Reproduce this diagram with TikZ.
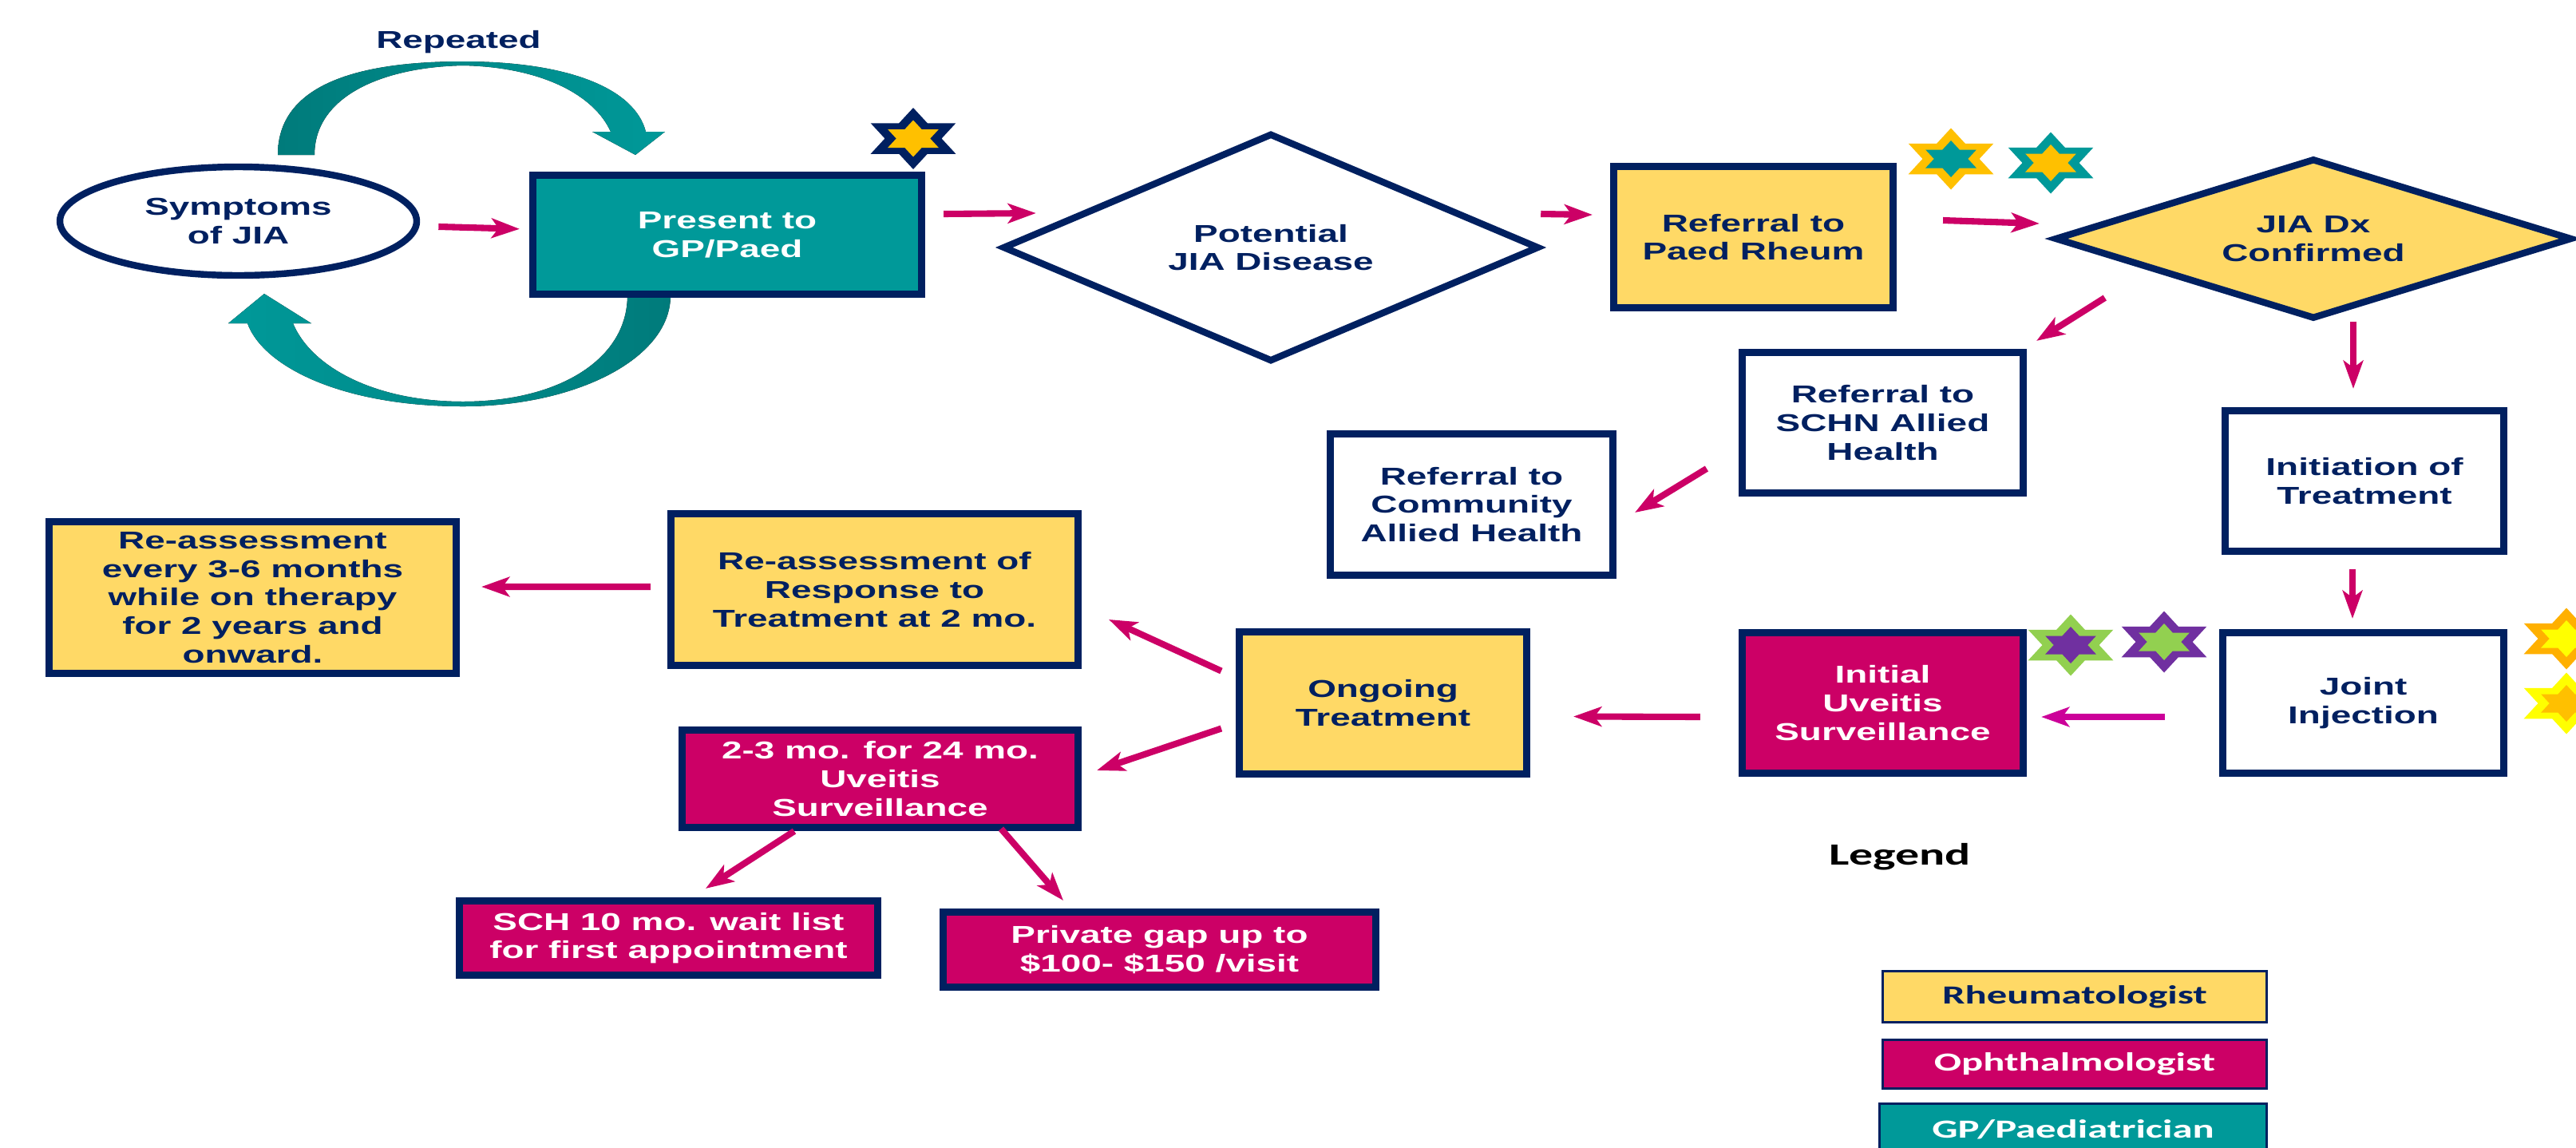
\documentclass[tikz,border=0pt]{standalone}
\usepackage{fontspec}
\usepackage{tikz}
\usetikzlibrary{shapes.geometric, arrows.meta}
\usepackage{xcolor}

\newfontfamily\boxfont[FakeStretch=1.5]{Liberation Sans}
\newfontfamily\legfont[FakeStretch=1.55]{Carlito}

\definecolor{navy}{HTML}{002060}
\definecolor{gp}{HTML}{009999}
\definecolor{gpdark}{HTML}{007B7B}
\definecolor{rheum}{HTML}{FFD966}
\definecolor{ophth}{HTML}{CC0066}
\definecolor{mag}{HTML}{CC0066}
\definecolor{magb}{HTML}{CC0099}
\definecolor{gold}{HTML}{FFC000}
\definecolor{amber}{HTML}{FFB000}
\definecolor{lemon}{HTML}{FFFF00}
\definecolor{leaf}{HTML}{92D050}
\definecolor{plum}{HTML}{7030A0}

\newcommand{\hexstar}[4]{%
	\begin{scope}[shift={(#1,#2)}, xscale=1.6]
		\fill[#3] plot[samples at={0,...,11}] ({90+30*\x}:{0.385*(0.7887+0.2113*cos(180*\x))}) -- cycle;
		\fill[#4] plot[samples at={0,...,11}] ({90+30*\x}:{0.23*(0.7887+0.2113*cos(180*\x))}) -- cycle;
	\end{scope}}

\begin{document}
\begin{tikzpicture}[
		box/.style={rectangle, draw=navy, line width=2.6pt, align=center, inner sep=0pt, text=navy,
			font=\boxfont\bfseries\fontsize{8.7}{10.2}\selectfont},
		wbox/.style={box, fill=white},
		ybox/.style={box, fill=rheum},
		mbox/.style={box, fill=ophth, text=white},
		tbox/.style={box, fill=gp, text=white},
		arr/.style={draw=mag, line width=2.3pt, -{Stealth[length=10pt, width=7pt, inset=2.5pt]}},
		legbox/.style={rectangle, draw=navy, line width=1.1pt, inner sep=0pt, minimum width=4.81cm,
			font=\legfont\bfseries\fontsize{9.3}{11}\selectfont}]
			\useasboundingbox[fill=white] (0,0) rectangle (32.27,-14.37);
			
			\fill[left color=gpdark, right color=gp] (3.48,-1.94) .. controls (3.48,-1.05) and (4.50,-0.77) .. (5.80,-0.77)
				.. controls (7.10,-0.77) and (7.95,-1.10) .. (8.09,-1.65) -- (8.33,-1.65) -- (7.96,-1.94) -- (7.42,-1.65) -- (7.65,-1.65)
				.. controls (7.45,-1.20) and (6.80,-0.84) .. (5.80,-0.82) .. controls (4.80,-0.84) and (3.94,-1.20) .. (3.94,-1.94) -- cycle;
			\fill[left color=gp, right color=gpdark] (8.40,-3.70) .. controls (8.40,-4.50) and (7.20,-5.09) .. (5.80,-5.09)
				.. controls (4.30,-5.09) and (3.30,-4.60) .. (3.10,-4.05) -- (2.86,-4.05) -- (3.31,-3.68) -- (3.90,-4.05) -- (3.67,-4.05)
				.. controls (3.90,-4.60) and (4.70,-5.03) .. (5.80,-5.03) .. controls (7.00,-5.03) and (7.86,-4.50) .. (7.86,-3.70) -- cycle;
			\node[text=navy, anchor=base, font=\boxfont\bfseries\fontsize{8.7}{10.2}\selectfont] (rep) at (5.745,-0.60) {Repeated};
			
			\node[box, ellipse, fill=white, line width=2.4pt, minimum width=4.47cm, minimum height=1.36cm] (sym) at (2.985,-2.77) {Symptoms\\of JIA};
			\node[tbox, minimum width=4.87cm, minimum height=1.49cm] (present) at (9.11,-2.94) {Present to\\GP/Paed};
			\node[wbox, diamond, aspect=2.3, line width=2.4pt, minimum width=6.72cm, minimum height=2.86cm] (potential) at (15.92,-3.10) {Potential\\JIA Disease};
			\node[ybox, minimum width=3.50cm, minimum height=1.77cm] (paedrheum) at (21.965,-2.97) {Referral to\\Paed Rheum};
			\node[ybox, diamond, aspect=3.2, line width=2.4pt, minimum width=6.48cm, minimum height=2.01cm] (jiadx) at (28.98,-2.99) {JIA Dx\\Confirmed};
			\node[wbox, minimum width=3.52cm, minimum height=1.76cm] (schn) at (23.585,-5.295) {Referral to\\SCHN Allied\\Health};
			\node[wbox, minimum width=3.54cm, minimum height=1.77cm] (community) at (18.435,-6.32) {Referral to\\Community\\Allied Health};
			\node[wbox, minimum width=3.49cm, minimum height=1.76cm] (initiation) at (29.62,-6.025) {Initiation of\\Treatment};
			\node[wbox, minimum width=3.52cm, minimum height=1.76cm] (joint) at (29.605,-8.805) {Joint\\Injection};
			\node[mbox, minimum width=3.52cm, minimum height=1.76cm] (uveitis) at (23.585,-8.805) {Initial\\Uveitis\\Surveillance};
			\node[ybox, minimum width=3.60cm, minimum height=1.78cm] (ongoing) at (17.325,-8.805) {Ongoing\\Treatment};
			\node[ybox, minimum width=5.10cm, minimum height=1.90cm] (response) at (10.955,-7.385) {Re-assessment of\\Response to\\Treatment at 2 mo.};
			\node[ybox, minimum width=5.10cm, minimum height=1.90cm] (every) at (3.165,-7.485) {Re-assessment\\every 3-6 months\\while on therapy\\for 2 years and\\onward.};
			\node[mbox, minimum width=4.96cm, minimum height=1.22cm] (surv) at (11.025,-9.755) {2-3 mo. for 24 mo.\\Uveitis\\Surveillance};
			\node[mbox, minimum width=5.24cm, minimum height=0.93cm] (sch) at (8.375,-11.75) {SCH 10 mo. wait list\\for first appointment};
			\node[mbox, minimum width=5.42cm, minimum height=0.94cm] (private) at (14.525,-11.895) {Private gap up to\\\$100- \$150 /visit};
			
			\hexstar{11.44}{-1.735}{navy}{gold}
			\hexstar{24.44}{-1.99}{gold}{gp}
			\hexstar{25.69}{-2.04}{gp}{gold}
			\hexstar{25.94}{-8.08}{leaf}{plum}
			\hexstar{27.11}{-8.04}{plum}{leaf}
			\hexstar{32.15}{-8.00}{amber}{lemon}
			\hexstar{32.15}{-8.81}{lemon}{gold}
			
			\draw[arr, shorten <=2.4mm, shorten >=1.2mm] (sym) -- (present);
			\draw[arr] ([xshift=0.23cm, yshift=0.26cm]present.east) -- ([xshift=0.46cm, yshift=0.43cm]potential.west);
			\draw[arr] ([xshift=-0.02cm, yshift=0.42cm]potential.east) -- ([xshift=-0.22cm, yshift=0.28cm]paedrheum.west);
			\draw[arr] ([xshift=0.58cm, yshift=0.21cm]paedrheum.east) -- ([xshift=-0.15cm, yshift=0.19cm]jiadx.west);
			\draw[arr] ([xshift=0.67cm, yshift=-0.74cm]jiadx.west) -- ([xshift=0.12cm, yshift=0.10cm]schn.north east);
			\draw[arr] ([xshift=0.50cm, yshift=0.01cm]jiadx.south) -- ([xshift=-0.14cm, yshift=0.23cm]initiation.north);
			\draw[arr] ([xshift=-0.40cm, yshift=-0.575cm]schn.west) -- ([xshift=0.23cm, yshift=-0.10cm]community.east);
			\draw[arr] ([xshift=-0.15cm, yshift=-0.18cm]initiation.south) -- ([xshift=-0.135cm, yshift=0.13cm]joint.north);
			\draw[arr, draw=magb] ([xshift=-0.68cm, yshift=-0.175cm]joint.west) -- ([xshift=0.18cm, yshift=-0.175cm]uveitis.east);
			\draw[arr] ([xshift=-0.48cm, yshift=-0.175cm]uveitis.west) -- ([xshift=0.54cm, yshift=-0.17cm]ongoing.east);
			\draw[arr] ([xshift=-0.18cm, yshift=0.40cm]ongoing.west) -- ([xshift=0.34cm, yshift=-0.375cm]response.east);
			\draw[arr] ([xshift=-0.18cm, yshift=-0.32cm]ongoing.west) -- ([xshift=0.19cm, yshift=0.105cm]surv.east);
			\draw[arr] ([xshift=-0.21cm, yshift=0.035cm]response.west) -- ([xshift=0.27cm, yshift=0.135cm]every.east);
			\draw[arr] ([xshift=-1.075cm]surv.south) -- ([xshift=0.465cm, yshift=0.11cm]sch.north);
			\draw[arr] ([xshift=1.515cm, yshift=0.03cm]surv.south) -- ([xshift=-1.205cm, yshift=0.10cm]private.north);
			
			\node[anchor=base, font=\legfont\bfseries\fontsize{11}{13}\selectfont] (legtitle) at (23.80,-10.83) {Legend};
			\node[legbox, fill=rheum, text=navy, minimum height=0.64cm] (legr) at (25.99,-12.485) {Rheumatologist};
			\node[legbox, fill=ophth, text=white, minimum height=0.61cm] (lego) at (25.99,-13.33) {Ophthalmologist};
			\node[legbox, fill=gp, text=white, minimum width=4.85cm, minimum height=0.65cm] (legg) at (25.97,-14.15) {GP/Paediatrician};
		\end{tikzpicture}
\end{document}
